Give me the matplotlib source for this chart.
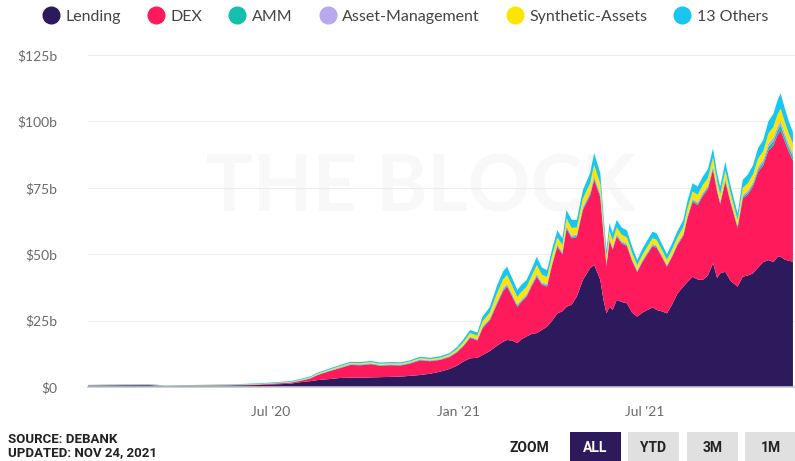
import matplotlib
matplotlib.use("Agg")
import matplotlib.pyplot as plt
from matplotlib.patches import Rectangle
from matplotlib.lines import Line2D
import pandas as pd

dates = ["2020-01-05", "2020-02-05", "2020-03-05", "2020-03-20", "2020-04-23", "2020-05-23",
         "2020-06-21", "2020-07-05", "2020-07-20", "2020-07-30", "2020-08-09", "2020-08-16",
         "2020-08-28", "2020-09-07", "2020-09-17", "2020-09-27", "2020-10-07", "2020-10-16",
         "2020-10-26", "2020-11-05", "2020-11-14", "2020-11-24", "2020-12-04", "2020-12-14",
         "2020-12-23", "2020-12-30", "2021-01-05", "2021-01-12", "2021-01-19", "2021-01-24",
         "2021-01-31", "2021-02-07", "2021-02-13", "2021-02-17", "2021-02-22", "2021-02-27",
         "2021-03-03", "2021-03-08", "2021-03-13", "2021-03-18", "2021-03-23", "2021-03-28",
         "2021-04-02", "2021-04-07", "2021-04-12", "2021-04-16", "2021-04-21", "2021-04-26",
         "2021-05-02", "2021-05-09", "2021-05-13", "2021-05-19", "2021-05-22", "2021-05-25",
         "2021-05-28", "2021-05-31", "2021-06-04", "2021-06-09", "2021-06-14", "2021-06-19",
         "2021-06-24", "2021-06-29", "2021-07-04", "2021-07-09", "2021-07-13", "2021-07-18",
         "2021-07-23", "2021-07-28", "2021-08-02", "2021-08-08", "2021-08-12", "2021-08-17",
         "2021-08-22", "2021-08-27", "2021-09-01", "2021-09-06", "2021-09-10", "2021-09-13",
         "2021-09-18", "2021-09-23", "2021-09-30", "2021-10-05", "2021-10-10", "2021-10-15",
         "2021-10-20", "2021-10-25", "2021-10-30", "2021-11-04", "2021-11-08", "2021-11-11",
         "2021-11-15", "2021-11-19", "2021-11-23"]

lending = [0.50, 0.60, 0.65, 0.33, 0.45, 0.55, 0.75, 1.0, 1.2, 1.8, 2.2, 2.6,
           3.0, 3.4, 3.5, 3.5, 3.6, 3.7, 3.8, 3.9, 4.2, 4.5, 5.0, 5.8,
           6.8, 8.0, 9.5, 10.8, 11.0, 12.0, 13.5, 15.5, 17.0, 17.7, 17.5, 16.5,
           18.0, 19.0, 20.0, 20.3, 21.5, 22.7, 25.0, 27.7, 28.5, 30.2, 31.0, 34.0,
           40.3, 44.7, 46.0, 40.3, 33.0, 27.7, 30.2, 29.0, 32.8, 32.0, 31.5, 28.0,
           26.5, 28.0, 29.0, 30.0, 29.0, 28.5, 27.7, 31.0, 35.0, 37.8, 39.5, 41.5,
           40.5, 40.3, 42.0, 46.6, 41.0, 42.8, 43.4, 40.0, 37.8, 41.5, 42.0, 42.8,
           45.0, 47.0, 47.8, 47.0, 49.0, 49.0, 48.0, 47.5, 47.2]

dex = [0.08, 0.10, 0.12, 0.07, 0.10, 0.12, 0.20, 0.30, 0.40, 0.50, 1.0, 1.9,
       3.0, 3.7, 4.8, 4.7, 5.0, 4.3, 4.4, 4.2, 4.6, 5.5, 4.7, 4.4,
       4.5, 5.0, 5.7, 7.7, 6.5, 10.1, 11.5, 15.5, 19.0, 20.1, 16.5, 13.7,
       14.0, 15.0, 18.0, 21.2, 17.0, 15.1, 21.0, 25.1, 21.5, 29.4, 25.0, 22.4,
       26.4, 27.3, 32.0, 31.2, 25.0, 17.9, 25.0, 22.7, 23.8, 22.0, 21.5, 19.5,
       16.8, 19.0, 21.0, 23.0, 23.4, 20.5, 17.6, 18.0, 18.2, 19.1, 24.0, 28.2,
       28.0, 31.6, 32.5, 35.3, 32.5, 26.1, 33.9, 29.5, 22.1, 29.5, 30.5, 32.7,
       36.0, 36.5, 41.2, 44.0, 46.0, 47.6, 44.5, 41.0, 38.0]

amm = [0.02, 0.03, 0.03, 0.02, 0.02, 0.03, 0.05, 0.05, 0.08, 0.10, 0.10, 0.12,
       0.15, 0.2, 0.2, 0.2, 0.2, 0.2, 0.2, 0.2, 0.2, 0.25, 0.2, 0.2,
       0.25, 0.3, 0.3, 0.3, 0.3, 0.4, 0.5, 0.6, 0.6, 0.6, 0.6, 0.5,
       0.5, 0.5, 0.5, 0.6, 0.5, 0.5, 0.5, 0.5, 0.5, 0.6, 0.6, 0.5,
       0.6, 0.7, 0.8, 0.7, 0.6, 0.5, 0.5, 0.5, 0.5, 0.5, 0.5, 0.5,
       0.4, 0.4, 0.5, 0.5, 0.5, 0.4, 0.4, 0.4, 0.5, 0.5, 0.6, 0.6,
       0.6, 0.7, 0.7, 0.8, 0.7, 0.6, 0.7, 0.6, 0.5, 0.7, 0.8, 0.9,
       1.0, 1.1, 1.4, 1.6, 1.8, 2.0, 1.7, 1.6, 1.5]

asset_mgmt = [0.02, 0.02, 0.02, 0.01, 0.02, 0.02, 0.03, 0.05, 0.07, 0.08, 0.10, 0.12,
              0.15, 0.2, 0.2, 0.2, 0.2, 0.2, 0.2, 0.2, 0.2, 0.2, 0.2, 0.2,
              0.2, 0.2, 0.2, 0.3, 0.3, 0.4, 0.4, 0.5, 0.6, 0.6, 0.5, 0.5,
              0.5, 0.5, 0.5, 0.6, 0.5, 0.5, 0.5, 0.5, 0.5, 0.5, 0.5, 0.5,
              0.6, 0.7, 0.8, 0.7, 0.5, 0.5, 0.5, 0.5, 0.5, 0.5, 0.5, 0.4,
              0.4, 0.4, 0.4, 0.4, 0.4, 0.4, 0.4, 0.4, 0.4, 0.5, 0.5, 0.6,
              0.6, 0.6, 0.6, 0.7, 0.6, 0.6, 0.6, 0.6, 0.5, 0.6, 0.7, 0.8,
              0.9, 1.0, 1.2, 1.4, 1.5, 1.6, 1.5, 1.4, 1.3]

synthetic = [0.05, 0.08, 0.10, 0.06, 0.08, 0.10, 0.12, 0.15, 0.15, 0.20, 0.25, 0.30,
             0.30, 0.35, 0.35, 0.35, 0.35, 0.35, 0.35, 0.35, 0.35, 0.4, 0.4, 0.45,
             0.5, 0.7, 1.0, 1.2, 1.2, 1.8, 2.0, 3.0, 3.2, 3.2, 3.0, 2.7,
             2.8, 2.7, 2.8, 3.2, 2.8, 2.6, 2.5, 2.5, 2.4, 2.8, 2.8, 2.6,
             3.0, 3.3, 4.0, 3.6, 2.8, 2.3, 2.6, 2.5, 2.5, 2.3, 2.3, 2.1,
             1.7, 1.9, 2.0, 2.1, 2.1, 1.9, 1.8, 1.9, 2.0, 2.3, 2.5, 2.7,
             2.7, 2.8, 2.9, 3.0, 2.6, 2.4, 2.9, 2.4, 2.0, 2.6, 2.7, 2.8,
             3.1, 3.2, 3.7, 4.0, 4.3, 4.6, 4.1, 3.8, 3.6]

others = [0.13, 0.17, 0.18, 0.11, 0.13, 0.18, 0.25, 0.25, 0.30, 0.32, 0.35, 0.36,
          0.40, 0.45, 0.45, 0.45, 0.45, 0.45, 0.45, 0.45, 0.45, 0.55, 0.5, 0.55,
          0.55, 0.8, 1.0, 1.2, 1.2, 1.8, 2.1, 2.9, 3.1, 3.1, 2.9, 2.6,
          2.7, 2.6, 2.7, 3.1, 2.7, 2.6, 2.5, 2.7, 2.6, 3.1, 3.1, 2.9,
          3.3, 3.8, 4.4, 4.0, 3.1, 2.7, 2.9, 2.8, 2.8, 2.7, 2.7, 2.5,
          2.0, 2.3, 2.4, 2.5, 2.5, 2.3, 2.1, 2.3, 2.4, 2.7, 2.9, 3.1,
          3.1, 3.2, 3.3, 3.5, 3.1, 2.9, 3.3, 2.9, 2.5, 3.1, 3.3, 3.5,
          4.0, 4.2, 4.7, 5.0, 5.4, 5.8, 5.2, 4.7, 4.4]

series_names = ["Lending", "DEX", "AMM", "Asset-Management", "Synthetic-Assets", "13 Others"]
colors = ["#2c1a5c", "#ff1a5c", "#14bfae", "#b8a8ee", "#ffe400", "#19c6f0"]

y_ticks = [0, 25, 50, 75, 100, 125]
x_tick_dates = ["2020-07-01", "2021-01-01", "2021-07-01"]
x_tick_labels = ["Jul '20", "Jan '21", "Jul '21"]

x = pd.to_datetime(dates)

fig = plt.figure(figsize=(7.95, 4.61), dpi=100)
fig.patch.set_facecolor("white")
ax = fig.add_axes([88 / 795, (461 - 387) / 461, 1 - 88 / 795, (387 - 55) / 461])

ax.text(0.47, 0.595, "THE BLOCK", transform=ax.transAxes, ha="center", va="center",
        fontsize=56, fontweight="bold", color="#f8f8f8", family="Lato", zorder=0.5)

ax.stackplot(x, lending, dex, amm, asset_mgmt, synthetic, others,
             colors=colors, linewidth=0, zorder=2)

ax.set_xlim(pd.Timestamp("2020-01-05"), pd.Timestamp("2021-11-25"))
ax.set_ylim(0, 125)
ax.set_yticks(y_ticks)
ax.set_yticklabels(["$0" if v == 0 else f"${v}b" for v in y_ticks])
ax.set_xticks(pd.to_datetime(x_tick_dates))
ax.set_xticklabels(x_tick_labels)
ax.grid(axis="y", color="#ededed", linewidth=0.8, zorder=0)
ax.set_axisbelow(True)
for s in ["top", "right", "left"]:
    ax.spines[s].set_visible(False)
ax.spines["bottom"].set_color("#c8c8c8")
ax.spines["bottom"].set_linewidth(1.2)
ax.spines["bottom"].set_zorder(3)
ax.tick_params(axis="both", length=0, colors="#6a6a6a", labelsize=10)
ax.tick_params(axis="y", pad=22)
ax.tick_params(axis="x", pad=14)
for lbl in ax.get_yticklabels() + ax.get_xticklabels():
    lbl.set_family("Lato")
ax.set_facecolor("white")

handles = [Line2D([0], [0], marker="o", color="none", markerfacecolor=c, markeredgecolor=c,
                  markersize=12) for c in colors]
leg = fig.legend(handles, series_names, loc="upper center", bbox_to_anchor=(0.51, 1.01),
                 ncol=6, frameon=False, handletextpad=0.4, columnspacing=1.7,
                 handlelength=1.0, prop={"family": "Lato", "size": 11.5})
for t in leg.get_texts():
    t.set_color("#444444")

fig.text(8 / 795, 1 - 439 / 461, "SOURCE: DEBANK", fontsize=9.5, fontweight="bold",
         color="#222222", family="Roboto", va="center")
fig.text(8 / 795, 1 - 453 / 461, "UPDATED: NOV 24, 2021", fontsize=9.5, fontweight="bold",
         color="#222222", family="Roboto", va="center")

fig.text(510 / 795, 1 - 448 / 461, "ZOOM", fontsize=10, fontweight="bold",
         color="#222222", family="Roboto", va="center")
buttons = [("ALL", 570, 621, "#2c1a5c", "white"),
           ("YTD", 628, 679, "#e0e0e0", "#222222"),
           ("3M", 687, 738, "#e0e0e0", "#222222"),
           ("1M", 745, 796, "#e0e0e0", "#222222")]
for label, x0, x1, bg, fg in buttons:
    fig.add_artist(Rectangle((x0 / 795, 0), (x1 - x0) / 795, (461 - 432) / 461,
                             transform=fig.transFigure, facecolor=bg, edgecolor="none"))
    fig.text((x0 + x1) / 2 / 795, 1 - 448 / 461, label, fontsize=10, fontweight="bold",
             color=fg, family="Roboto", ha="center", va="center")

fig.savefig("out.png", dpi=100, facecolor="white")
